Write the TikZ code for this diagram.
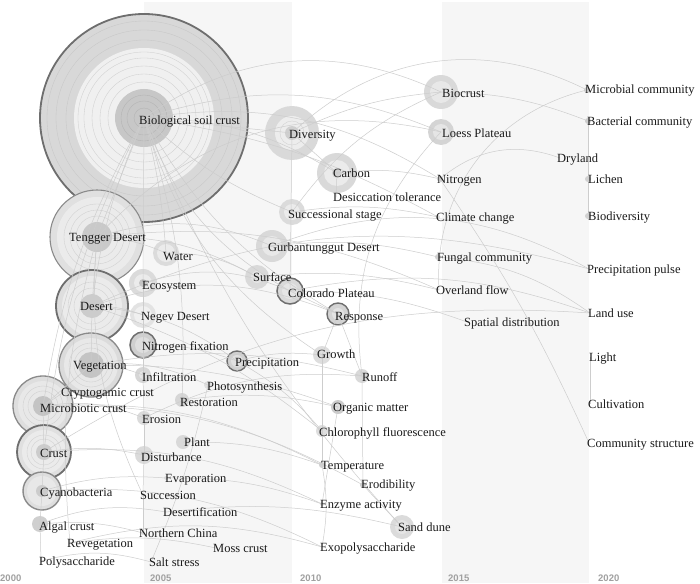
\documentclass[tikz,border=0pt]{standalone}
\usepackage{fontspec}
\setmainfont{Liberation Serif}
\newfontfamily\yearfont{Liberation Sans}
\definecolor{band}{HTML}{F6F6F6}
\definecolor{lkc}{HTML}{CDCDCD}
\definecolor{trc}{HTML}{CFCFCF}
\definecolor{bdk}{HTML}{6E6E6E}
\definecolor{bmd}{HTML}{8A8A8A}
\definecolor{txt}{HTML}{1A1A1A}
\definecolor{yr}{HTML}{A0A0A0}
\begin{document}
\begin{tikzpicture}[x=1pt,y=-1pt,
  kw/.style={circle,inner sep=0pt,outer sep=0pt,minimum size=#1},
  lk/.style={draw=lkc,line width=0.5pt},
  tr/.style={draw=trc,line width=0.35pt},
  lb/.style={anchor=west,inner sep=0pt,text=txt,font=\fontsize{12.5}{14}\selectfont,text height=8.5pt,text depth=0.5pt},
  yl/.style={anchor=west,inner sep=0pt,text=yr,font=\yearfont\bfseries\fontsize{9.5}{11}\selectfont}]
\useasboundingbox (0,0) rectangle (700,583);
\fill[white] (0,0) rectangle (700,583);
\fill[band] (144,2) rectangle (292,583);
\fill[band] (442,2) rectangle (589,583);
% ---------- ringed nodes ----------
\node[kw=208pt,fill={rgb,255:red,216;green,216;blue,216},draw=bdk,line width=1.8pt] (bsc) at (144,118) {};
\fill[white!94!black] (bsc.center) circle (70pt);
\foreach \r in {36,44,52,60,66} \draw[tr] (bsc.center) circle (\r pt);
\foreach \r in {78,88,97} \draw[draw=white!78!black,line width=0.35pt] (bsc.center) circle (\r pt);
\fill[white!78!black] (bsc.center) circle (29pt);
\foreach \r in {10,17,23} \draw[draw=white!70!black,line width=0.35pt] (bsc.center) circle (\r pt);

\node[kw=94pt,fill=white!88!black,draw=bmd,line width=1.1pt] (tengger) at (97,237) {};
\fill[white!92!black] (tengger.center) circle (40pt);
\foreach \r in {21,27,33} \draw[tr] (tengger.center) circle (\r pt);
\fill[white!79!black] (tengger.center) circle (15pt);

\node[kw=72pt,fill=white!87!black,draw=bdk,line width=1.8pt] (desert) at (92,306) {};
\fill[white!92!black] (desert.center) circle (30pt);
\foreach \r in {18,24} \draw[tr] (desert.center) circle (\r pt);
\fill[white!80!black] (desert.center) circle (12pt);

\node[kw=64pt,fill=white!86!black,draw=bmd,line width=1.3pt] (veget) at (91,365) {};
\fill[white!91!black] (veget.center) circle (27pt);
\foreach \r in {17,22} \draw[tr] (veget.center) circle (\r pt);
\fill[white!77!black] (veget.center) circle (13pt);

\node[kw=60pt,fill=white!87!black,draw=bmd,line width=1.3pt] (microb) at (43,406) {};
\fill[white!91!black] (microb.center) circle (25pt);
\foreach \r in {15,20} \draw[tr] (microb.center) circle (\r pt);
\fill[white!77!black] (microb.center) circle (10pt);

\node[kw=54pt,fill=white!88!black,draw=bdk,line width=1.8pt] (crust) at (44,452) {};
\fill[white!92!black] (crust.center) circle (22pt);
\foreach \r in {13,17} \draw[tr] (crust.center) circle (\r pt);
\fill[white!80!black] (crust.center) circle (8pt);

\node[kw=38pt,fill=white!87!black,draw=bmd,line width=1.4pt] (cyano) at (42,491) {};
\fill[white!91!black] (cyano.center) circle (15pt);
\fill[white!80!black] (cyano.center) circle (6pt);

\node[kw=54pt,fill=white!85!black] (diversity) at (292,133) {};
\fill[white!93!black] (diversity.center) circle (17pt);
\draw[tr] (diversity.center) circle (12pt);
\fill[white!81!black] (diversity.center) circle (7pt);

\node[kw=34pt,fill=white!85!black] (biocrust) at (441,92) {};
\fill[white!91!black] (biocrust.center) circle (11pt);
\node[kw=40pt,fill=white!85!black] (carbon) at (337,173) {};
\fill[white!92!black] (carbon.center) circle (13pt);
\fill[white!82!black] (carbon.center) circle (5pt);
\node[kw=26pt,fill=white!83!black] (loess) at (441,132) {};
\fill[white!90!black] (loess.center) circle (8pt);
\node[kw=26pt,fill=white!86!black] (succst) at (292,212) {};
\fill[white!92!black] (succst.center) circle (8pt);
\node[kw=32pt,fill=white!85!black] (gurb) at (272,246) {};
\fill[white!91!black] (gurb.center) circle (10pt);
\node[kw=24pt,fill=white!85!black] (surface) at (257,277) {};
\fill[white!90!black] (surface.center) circle (6pt);
\node[kw=26pt,fill=white!86!black] (water) at (166,253) {};
\fill[white!92!black] (water.center) circle (9pt);
\node[kw=28pt,fill=white!86!black] (ecosys) at (143,283) {};
\fill[white!92!black] (ecosys.center) circle (9pt);
\fill[white!77!black] (ecosys.center) circle (4pt);
\node[kw=26pt,fill=white!89!black] (negev) at (143,315) {};
\fill[white!94!black] (negev.center) circle (9pt);
\node[kw=26pt,fill=white!85!black,draw=bdk,line width=1.5pt] (colorado) at (290,291) {};
\fill[white!90!black] (colorado.center) circle (8pt);
\node[kw=22pt,fill=white!83!black,draw=bdk,line width=1.4pt] (response) at (338,314) {};
\fill[white!89!black] (response.center) circle (6pt);
\node[kw=26pt,fill=white!81!black,draw=bdk,line width=1.5pt] (nfix) at (143,345) {};
\fill[white!87!black] (nfix.center) circle (8pt);
\node[kw=20pt,fill=white!82!black,draw=bdk,line width=1.4pt] (precip) at (237,361) {};
\fill[white!88!black] (precip.center) circle (6pt);
\node[kw=16pt,fill=white!84!black] (infil) at (143,375) {};
\fill[white!90!black] (infil.center) circle (4pt);
\node[kw=14pt,fill=white!84!black] (restor) at (182,400) {};
\node[kw=14pt,fill=white!86!black] (erosion) at (144,418) {};
\node[kw=14pt,fill=white!85!black] (plant) at (183,442) {};
\node[kw=18pt,fill=white!86!black] (disturb) at (144,455) {};
\node[kw=18pt,fill=white!87!black] (growth) at (322,355) {};
\node[kw=14pt,fill=white!85!black] (runoff) at (362,376) {};
\node[kw=14pt,fill=white!80!black] (organic) at (338,407) {};
\fill[white!88!black] (organic.center) circle (4pt);
\node[kw=12pt,fill=white!87!black] (chloro) at (322,431) {};
\node[kw=24pt,fill=white!86!black] (sand) at (402,527) {};
\fill[white!90!black] (sand.center) circle (7pt);
\node[kw=16pt,fill=white!81!black] (algal) at (40,524) {};
% small dots
\node[kw=6pt,fill=white!80!black] (nitrogen) at (440,179) {};
\node[kw=6pt,fill=white!82!black] (fungal) at (438,257) {};
\node[kw=6pt,fill=white!80!black] (microcom) at (587,90) {};
\node[kw=6pt,fill=white!80!black] (bactcom) at (588,121) {};
\node[kw=6pt,fill=white!82!black] (lichen) at (588,179) {};
\node[kw=6pt,fill=white!82!black] (biodiv) at (588,216) {};
\node[kw=6pt,fill=white!82!black] (temp) at (322,465) {};
\node[kw=6pt,fill=white!80!black] (erod) at (363,485) {};
\node[kw=8pt,fill=white!88!black] (photo) at (208,385) {};
\node[kw=4pt,fill=white!86!black] (climate) at (438,217) {};
\node[kw=4pt,fill=white!88!black] (evap) at (166,478) {};
\node[kw=4pt,fill=white!88!black] (succ) at (143,495) {};
\node[kw=4pt,fill=white!88!black] (nchina) at (143,533) {};
\node[kw=4pt,fill=white!88!black] (enzyme) at (322,504) {};
% label-only positions
\coordinate (desic) at (336,197);
\coordinate (dryland) at (560,158);
\coordinate (overland) at (439,290);
\coordinate (spatial) at (467,322);
\coordinate (ppulse) at (589,269);
\coordinate (landuse) at (590,313);
\coordinate (light) at (590,357);
\coordinate (cultiv) at (590,404);
\coordinate (comstruct) at (589,443);
\coordinate (exopoly) at (322,547);
\coordinate (crypto) at (64,392);
\coordinate (reveg) at (70,543);
\coordinate (polys) at (41,561);
\coordinate (desf) at (166,512);
\coordinate (moss) at (216,548);
\coordinate (salt) at (151,562);
% ---------- links ----------
\foreach \a/\b/\c in {
 bsc/biocrust/30, bsc/loess/20, bsc/carbon/15, bsc/nitrogen/20, bsc/climate/10,
 bsc/water/5, bsc/restor/10, tengger/loess/30, tengger/gurb/20,
 tengger/surface/15, tengger/water/10, tengger/overland/15, desert/precip/15,
 desert/response/20, desert/negev/10, desert/chloro/10, desert/ppulse/20,
 veget/infil/10, veget/runoff/12, veget/photo/15, veget/organic/10,
 microb/erosion/15, microb/temp/15, microb/erod/15, crust/disturb/10,
 crust/enzyme/15, crust/landuse/18, cyano/exopoly/15, cyano/evap/10,
 algal/nchina/10, algal/desf/15, reveg/moss/10, polys/salt/15, reveg/exopoly/15,
 nfix/precip/10, water/surface/15, ecosys/colorado/20, desf/sand/10,
 evap/enzyme/10, plant/temp/10, restor/organic/10, precip/chloro/10,
 precip/growth/10, erosion/runoff/15, diversity/biocrust/10, diversity/microcom/35,
 carbon/nitrogen/10, succst/climate/10, gurb/fungal/10, surface/overland/10,
 colorado/landuse/15, colorado/spatial/10, biocrust/bactcom/10,
 overland/microcom/40, nitrogen/comstruct/5, nitrogen/dryland/30,
 fungal/landuse/15, gurb/ppulse/25, temp/exopoly/10}
 \draw[lk] (\a.center) to[bend left=\c] (\b.center);
\foreach \a/\b/\c in {
 bsc/succst/10, bsc/colorado/20, bsc/response/15, bsc/desert/8,
 bsc/microb/10, bsc/crust/10, bsc/growth/20,
 bsc/sand/10, tengger/reveg/10, tengger/succ/15,
 salt/photo/5, loess/runoff/25, biocrust/succst/15}
 \draw[lk] (\a.center) to[bend right=\c] (\b.center);
\foreach \a/\b in {bsc/diversity, bsc/ecosys, bsc/tengger, tengger/desert,
 desert/veget, veget/microb, microb/crust, crust/cyano, cyano/algal, algal/polys,
 ecosys/negev, negev/nfix, nfix/infil, infil/erosion, erosion/disturb,
 disturb/succ, succ/nchina, diversity/colorado, diversity/carbon, carbon/desic,
 colorado/response, response/growth, response/runoff, growth/chloro, chloro/temp,
 runoff/erod, erod/sand, organic/enzyme, bactcom/lichen, lichen/biodiv,
 light/cultiv, crypto/microb}
 \draw[lk] (\a.center) -- (\b.center);
% ---------- labels ----------
\node[lb] (t1) at (139,120) {Biological soil crust};
\node[lb] (t2) at (69,237) {Tengger Desert};
\node[lb] (t3) at (80,306) {Desert};
\node[lb] (t4) at (73,365) {Vegetation};
\node[lb] (t5) at (61,392) {Cryptogamic crust};
\node[lb] (t6) at (40,408) {Microbiotic crust};
\node[lb] (t7) at (40,453) {Crust};
\node[lb] (t8) at (40,492) {Cyanobacteria};
\node[lb] (t9) at (39,526) {Algal crust};
\node[lb] (t10) at (67,543) {Revegetation};
\node[lb] (t11) at (39,561) {Polysaccharide};
\node[lb] (t12) at (163,256) {Water};
\node[lb] (t13) at (142,285) {Ecosystem};
\node[lb] (t14) at (141,316) {Negev Desert};
\node[lb] (t15) at (142,346) {Nitrogen fixation};
\node[lb] (t16) at (142,377) {Infiltration};
\node[lb] (t17) at (235,362) {Precipitation};
\node[lb] (t18) at (207,386) {Photosynthesis};
\node[lb] (t19) at (180,402) {Restoration};
\node[lb] (t20) at (142,419) {Erosion};
\node[lb] (t21) at (184,442) {Plant};
\node[lb] (t22) at (141,457) {Disturbance};
\node[lb] (t23) at (165,478) {Evaporation};
\node[lb] (t24) at (140,495) {Succession};
\node[lb] (t25) at (163,512) {Desertification};
\node[lb] (t26) at (139,533) {Northern China};
\node[lb] (t27) at (213,548) {Moss crust};
\node[lb] (t28) at (149,562) {Salt stress};
\node[lb] (t29) at (289,134) {Diversity};
\node[lb] (t30) at (333,173) {Carbon};
\node[lb] (t31) at (333,197) {Desiccation tolerance};
\node[lb] (t32) at (288,214) {Successional stage};
\node[lb] (t33) at (268,247) {Gurbantunggut Desert};
\node[lb] (t34) at (253,277) {Surface};
\node[lb] (t35) at (288,293) {Colorado Plateau};
\node[lb] (t36) at (335,316) {Response};
\node[lb] (t37) at (317,354) {Growth};
\node[lb] (t38) at (362,377) {Runoff};
\node[lb] (t39) at (333,407) {Organic matter};
\node[lb] (t40) at (319,432) {Chlorophyll fluorescence};
\node[lb] (t41) at (321,465) {Temperature};
\node[lb] (t42) at (361,484) {Erodibility};
\node[lb] (t43) at (320,504) {Enzyme activity};
\node[lb] (t44) at (398,527) {Sand dune};
\node[lb] (t45) at (320,547) {Exopolysaccharide};
\node[lb] (t46) at (442,93) {Biocrust};
\node[lb] (t47) at (442,133) {Loess Plateau};
\node[lb] (t48) at (437,179) {Nitrogen};
\node[lb] (t49) at (436,217) {Climate change};
\node[lb] (t50) at (437,257) {Fungal community};
\node[lb] (t51) at (436,290) {Overland flow};
\node[lb] (t52) at (464,322) {Spatial distribution};
\node[lb] (t53) at (585,90) {Microbial community};
\node[lb] (t54) at (587,121) {Bacterial community};
\node[lb] (t55) at (557,158) {Dryland};
\node[lb] (t56) at (588,179) {Lichen};
\node[lb] (t57) at (588,216) {Biodiversity};
\node[lb] (t58) at (587,269) {Precipitation pulse};
\node[lb] (t59) at (588,313) {Land use};
\node[lb] (t60) at (589,357) {Light};
\node[lb] (t61) at (588,404) {Cultivation};
\node[lb] (t62) at (587,443) {Community structure};
% years
\node[yl] (y1) at (0,578) {2000};
\node[yl] (y2) at (150,578) {2005};
\node[yl] (y3) at (300,578) {2010};
\node[yl] (y4) at (448,578) {2015};
\node[yl] (y5) at (598,578) {2020};
\end{tikzpicture}
\end{document}
